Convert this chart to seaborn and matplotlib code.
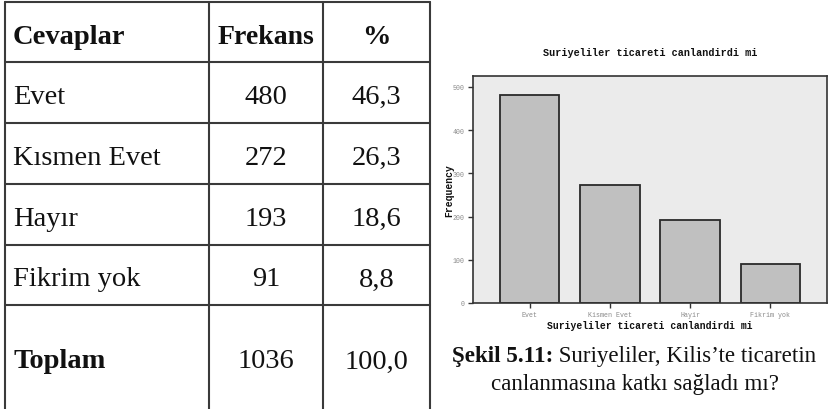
import matplotlib
matplotlib.use('Agg')
import matplotlib.pyplot as plt
import seaborn as sns
import pandas as pd

# --- Data ---
cevaplar  = ["Evet", "Kısmen Evet", "Hayır", "Fikrim yok"]
frekans   = [480, 272, 193, 91]
yuzde     = ["46,3", "26,3", "18,6", "8,8"]
toplam    = ["Toplam", "1036", "100,0"]
headers   = ["Cevaplar", "Frekans", "%"]

bar_labels = ["Evet", "Kismen Evet", "Hayir", "Fikrim yok"]
bar_values = [480, 272, 193, 91]
y_ticks    = [0, 100, 200, 300, 400, 500]

chart_title = "Suriyeliler ticareti canlandirdi mi"
caption_bold = "Şekil 5.11:"
caption_rest = " Suriyeliler, Kilis’te ticaretin"
caption_line2 = "canlanmasına katkı sağladı mı?"

sns.set_style("white")
plt.rcParams['text.color'] = '#111111'
SERIF = ['Liberation Serif', 'DejaVu Serif']
MONO = ['Liberation Mono', 'DejaVu Sans Mono']

W, H = 836, 410
fig = plt.figure(figsize=(W / 100, H / 100), dpi=100)

def fx(px):
    return px / W

def fy(py):
    return 1 - py / H

# ── Table ──
line_kw = dict(color='#3a3a3a', linewidth=1.5, transform=fig.transFigure)
col_x = [5, 209, 323, 430]
row_y = [3, 63, 124, 185, 246, 306]
for y in row_y:
    fig.add_artist(plt.Line2D([fx(col_x[0]), fx(col_x[-1])], [fy(y), fy(y)], **line_kw))
for x in col_x:
    fig.add_artist(plt.Line2D([fx(x), fx(x)], [fy(row_y[0]), fy(H)], **line_kw))

name_x = 13
freq_x = (col_x[1] + col_x[2]) / 2
pct_x = (col_x[2] + col_x[3]) / 2
FS = 20.5
dy = 4  # text sits a bit below the row centre

hy = (row_y[0] + row_y[1]) / 2 + dy
fig.text(fx(name_x), fy(hy), headers[0], ha='left', va='center', fontsize=FS,
         fontweight='bold', family=SERIF)
fig.text(fx(freq_x), fy(hy), headers[1], ha='center', va='center', fontsize=FS - 0.5,
         fontweight='bold', family=SERIF)
fig.text(fx(pct_x), fy(hy), headers[2], ha='center', va='center', fontsize=FS,
         fontweight='bold', family=SERIF)

for i, (c, f, p) in enumerate(zip(cevaplar, frekans, yuzde)):
    cy = (row_y[i + 1] + row_y[i + 2]) / 2 + dy
    fig.text(fx(name_x), fy(cy), c, ha='left', va='center', fontsize=FS, family=SERIF)
    fig.text(fx(freq_x), fy(cy), str(f), ha='center', va='center', fontsize=FS, family=SERIF)
    fig.text(fx(pct_x), fy(cy), p, ha='center', va='center', fontsize=FS, family=SERIF)

ty = 362
fig.text(fx(name_x), fy(ty), toplam[0], ha='left', va='center', fontsize=FS,
         fontweight='bold', family=SERIF)
fig.text(fx(freq_x), fy(ty), toplam[1], ha='center', va='center', fontsize=FS, family=SERIF)
fig.text(fx(pct_x), fy(ty), toplam[2], ha='center', va='center', fontsize=FS, family=SERIF)

# ── Bar chart ──
ax = fig.add_axes([fx(473), fy(304), fx(827 - 473), (304 - 77) / H])
df = pd.DataFrame({"cevap": bar_labels, "freq": bar_values})
sns.barplot(data=df, x="cevap", y="freq", ax=ax, color='#c0c0c0', saturation=1,
            edgecolor='#2a2a2a', linewidth=1.3, width=0.74)
ax.set_facecolor('#ebebeb')
ax.set_xlim(-0.71, 3.71)
ax.set_ylim(0, 525)
ax.set_yticks(y_ticks)
ax.set_yticklabels([str(t) for t in y_ticks], fontsize=4.8, color='#8a8a8a', family=MONO)
ax.set_xticks(range(len(bar_labels)))
ax.set_xticklabels(bar_labels, fontsize=4.8, color='#8a8a8a', family=MONO)
ax.tick_params(axis='both', direction='out', length=3.5, width=1, color='#333333', pad=2.5)
ax.tick_params(left=True, bottom=True)
for s in ax.spines.values():
    s.set_color('#333333')
    s.set_linewidth(1.2)
    s.set_visible(True)
ax.set_xlabel(chart_title, fontsize=7, fontweight='bold', family=MONO, labelpad=1.5,
              color='#111111')
ax.set_ylabel("Frequency", fontsize=7, fontweight='bold', family=MONO, labelpad=-1,
              color='#111111')
ax.set_title(chart_title, fontsize=7.3, fontweight='bold', family=MONO, pad=15,
             color='#111111')

# ── Caption ──
CFS = 16.6
cap1_x = 635
t1 = fig.text(fx(452), fy(357), caption_bold, ha='left', va='center', fontsize=CFS,
              fontweight='bold', family=SERIF)
fig.canvas.draw()
bb = t1.get_window_extent()
fig.text(bb.x1 / W, fy(357), caption_rest, ha='left', va='center', fontsize=CFS, family=SERIF)
fig.text(fx(cap1_x), fy(385), caption_line2, ha='center', va='center', fontsize=CFS, family=SERIF)

plt.savefig('out.png', dpi=100)
plt.close()
